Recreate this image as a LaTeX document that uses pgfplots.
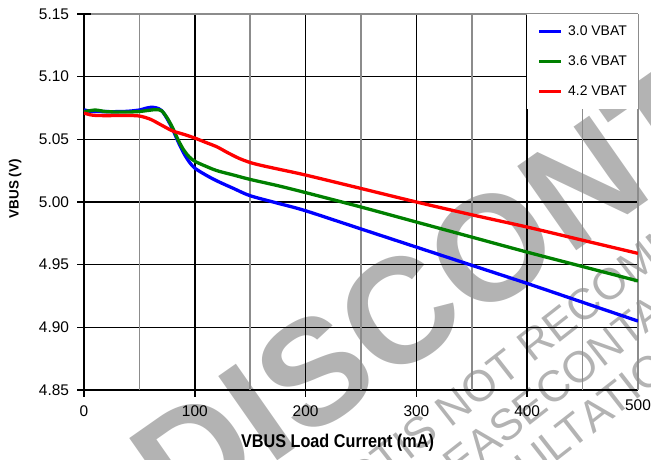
\documentclass[border=0pt]{standalone}
\usepackage{fontspec}
\setmainfont{Liberation Sans}
\newfontfamily\condfont[FakeStretch=0.88]{Liberation Sans}
\usepackage{pgfplots}
\pgfplotsset{compat=1.18}
\definecolor{wm}{RGB}{179,179,179}
\definecolor{cblue}{RGB}{0,0,255}
\definecolor{cgreen}{RGB}{0,128,0}
\definecolor{cred}{RGB}{255,0,0}
\definecolor{minorgray}{RGB}{140,140,140}
\begin{document}
\begin{tikzpicture}
\useasboundingbox (-84bp,-70bp) rectangle (567bp,390bp);
% watermark (behind the grid)
\node[rotate=35, anchor=base west, inner sep=0pt, text=wm, font=\bfseries\fontsize{150}{150}\selectfont] at (96.7bp,-138.4bp) {DISCONTINUED};
\tikzset{wmsmall/.style={rotate=38, inner sep=0pt, text=wm, font=\fontsize{44}{44}\selectfont}}
\node[wmsmall, anchor=base east] at (324.1bp,-71.3bp) {THIS PRODUCT\ };
\node[wmsmall, anchor=base west] at (324.1bp,-71.3bp) {IS NOT RECOMMENDED FOR NEW DESIGNS};
\node[wmsmall, anchor=base east] at (466.4bp,-19bp) {PLEASE\ };
\node[wmsmall, anchor=base west] at (466.4bp,-19bp) {CONTACT SALES FOR};
\node[wmsmall, anchor=base east] at (508.9bp,-44.3bp) {CONSULT};
\node[wmsmall, anchor=base west] at (508.9bp,-44.3bp) {ATION};
\begin{axis}[
  at={(0,0)}, anchor=south west,
  scale only axis, width=554bp, height=376bp,
  xmin=0, xmax=500, ymin=4.85, ymax=5.15,
  axis line style={draw=none},
  xtick={0,100,200,300,400},
  xticklabels={0,100,200,300,400},
  extra x ticks={50,150,250,350,450,500}, extra x tick labels={,,,,,500},
  extra x tick style={grid=major, major grid style={minorgray, line width=1.5bp}, major tick length=0pt},
  ytick={4.85,4.90,4.95,5.00,5.05,5.10},
  yticklabels={4.85,4.90,4.95,5.00,5.05,5.10},
  extra y ticks={5.15}, extra y tick labels={5.15},
  extra y tick style={grid=major, major grid style={minorgray, line width=1.5bp}},
  xmajorgrids, ymajorgrids,
  major grid style={black, line width=1.5bp},
  tick align=center, major tick length=13bp,
  tick style={black, line width=1.5bp},
  xtick pos=bottom, ytick pos=left,
  ticklabel style={font=\fontsize{15.5}{18}\selectfont},
  xticklabel style={yshift=-6bp},
  yticklabel style={xshift=-5bp},
  xlabel={VBUS Load Current (mA)},
  ylabel={VBUS (V)},
  every axis x label/.style={at={(axis description cs:0.4576,-0.141)}, anchor=center, font=\condfont\bfseries\fontsize{18.5}{20}\selectfont},
  every axis y label/.style={at={(axis description cs:-0.1245,0.535)}, rotate=90, anchor=center, font=\bfseries\fontsize{13.5}{15}\selectfont},
  legend style={at={(1,1)}, anchor=north east, draw=none, fill=white,
    inner xsep=11bp, inner ysep=12bp, row sep=18.5bp, column sep=5bp,
    font=\fontsize{14}{16}\selectfont, nodes={inner sep=0pt}},
  legend cell align=left,
  legend image code/.code={\draw[#1] (0bp,0bp) -- (22bp,0bp);},
  every axis plot/.append style={line width=3.3bp, smooth, tension=0.5},
]
\addplot[cblue] coordinates {(0,5.0735)(5,5.0725)(10,5.0722)(20,5.0721)(30,5.0721)(40,5.0724)(50,5.0734)(55,5.0746)(60,5.0755)(65,5.0752)(70,5.0730)(75,5.0665)(80,5.0580)(85,5.0480)(90,5.0390)(95,5.0320)(100,5.0270)(110,5.0215)(120,5.0168)(135,5.0108)(150,5.0050)(175,4.9990)(200,4.9930)(250,4.9785)(300,4.9640)(350,4.9495)(400,4.9350)(450,4.9200)(500,4.9050)};
\addlegendentry{3.0 VBAT}
\addplot[cgreen] coordinates {(0,5.0720)(5,5.0728)(10,5.0734)(15,5.0728)(20,5.0721)(30,5.0718)(40,5.0718)(50,5.0722)(60,5.0733)(65,5.0737)(70,5.0728)(75,5.0672)(80,5.0592)(85,5.0495)(90,5.0415)(95,5.0360)(100,5.0325)(110,5.0285)(120,5.0250)(135,5.0215)(150,5.0180)(175,5.0130)(200,5.0075)(250,4.9960)(300,4.9840)(350,4.9720)(400,4.9600)(450,4.9485)(500,4.9370)};
\addlegendentry{3.6 VBAT}
\addplot[cred] coordinates {(0,5.0710)(5,5.0697)(10,5.0691)(20,5.0689)(30,5.0690)(40,5.0690)(50,5.0686)(60,5.0660)(70,5.0613)(80,5.0567)(90,5.0540)(100,5.0510)(110,5.0475)(120,5.0440)(130,5.0392)(140,5.0348)(150,5.0315)(160,5.0292)(175,5.0263)(200,5.0215)(250,5.0108)(300,5.0000)(350,4.9898)(400,4.9800)(450,4.9695)(500,4.9590)};
\addlegendentry{4.2 VBAT}
\end{axis}
\end{tikzpicture}
\end{document}
